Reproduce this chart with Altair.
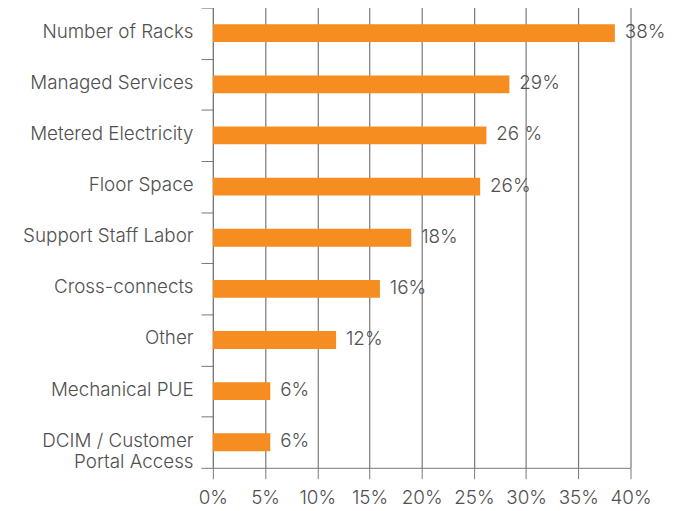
import altair as alt
import pandas as pd

categories = [
    "Number of Racks",
    "Managed Services",
    "Metered Electricity",
    "Floor Space",
    "Support Staff Labor",
    "Cross-connects",
    "Other",
    "Mechanical PUE",
    "DCIM / Customer Portal Access",
]
values = [0.385, 0.284, 0.262, 0.256, 0.190, 0.160, 0.118, 0.055, 0.055]
value_labels = ["38%", "29%", "26 %", "26%", "18%", "16%", "12%", "6%", "6%"]
x_ticks = [0, 0.05, 0.10, 0.15, 0.20, 0.25, 0.30, 0.35, 0.40]

df = pd.DataFrame({"category": categories, "value": values, "label": value_labels})

FONT = "Inter"
WEIGHT = 300
SIZE = 19
TEXT = "#505050"
LINE = "#777777"

y_enc = alt.Y(
    "category:N",
    sort=categories,
    scale=alt.Scale(paddingInner=0, paddingOuter=0),
    axis=alt.Axis(
        title=None,
        labelExpr="datum.value == 'DCIM / Customer Portal Access' ? ['DCIM / Customer', 'Portal Access'] : datum.value",
        tickBand="extent",
        tickSize=12,
        tickColor=LINE,
        domainColor=LINE,
        labelPadding=8,
        labelOffset=-2,
        labelFont=FONT,
        labelFontSize=SIZE,
        labelFontWeight=WEIGHT,
        labelColor=TEXT,
        labelLineHeight=22,
        labelLimit=300,
    ),
)

x_enc = alt.X(
    "value:Q",
    scale=alt.Scale(domain=[0, 0.4], nice=False),
    axis=alt.Axis(
        title=None,
        values=x_ticks,
        format=".0%",
        grid=True,
        gridColor=LINE,
        gridWidth=1.2,
        tickColor=LINE,
        tickSize=11,
        domainColor=LINE,
        labelPadding=10,
        labelFont=FONT,
        labelFontSize=SIZE,
        labelFontWeight=WEIGHT,
        labelColor=TEXT,
        labelFlush=False,
    ),
)

bars = alt.Chart(df).mark_bar(size=18, color="#F68D21").encode(x=x_enc, y=y_enc)

labels = alt.Chart(df).mark_text(
    align="left", baseline="middle", dx=10, dy=-1, font=FONT, fontSize=SIZE,
    fontWeight=WEIGHT, color=TEXT
).encode(x=alt.X("value:Q"), y=alt.Y("category:N", sort=categories), text="label:N")

chart = (
    alt.layer(bars, labels)
    .properties(
        width=422,
        height=465,
        autosize=alt.AutoSizeParams(type="none"),
        padding={"left": 207, "top": -3, "right": 50, "bottom": 40},
    )
    .configure_view(stroke=None)
)

chart.save("out.html", embed_options={"renderer": "svg", "actions": False})
